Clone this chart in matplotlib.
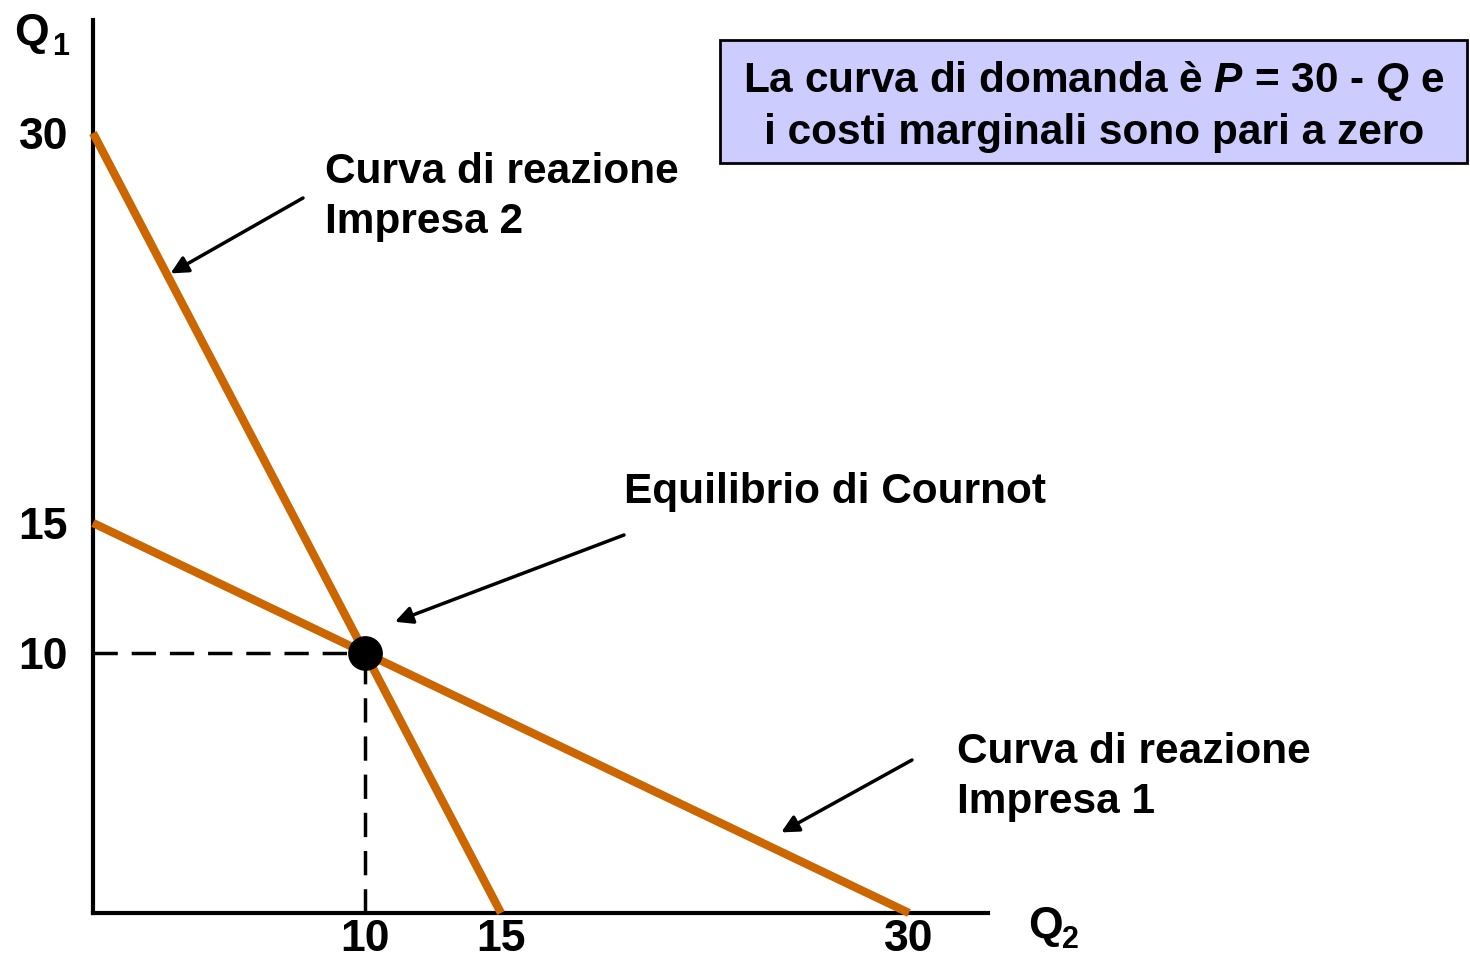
import numpy as np
import matplotlib
matplotlib.use("Agg")
import matplotlib.pyplot as plt
from matplotlib.patches import Rectangle

plt.rcParams["font.family"] = ["Liberation Sans", "DejaVu Sans"]
plt.rcParams["mathtext.fontset"] = "custom"
plt.rcParams["mathtext.it"] = "Liberation Sans:italic:bold"
plt.rcParams["mathtext.bf"] = "Liberation Sans:bold"
plt.rcParams["mathtext.rm"] = "Liberation Sans:bold"

# dati
q2_impresa2 = [0, 15]        # Q1 = 30 - 2*Q2
q1_impresa2 = [30, 0]
q2_impresa1 = [0, 30]        # Q1 = 15 - Q2/2
q1_impresa1 = [15, 0]
eq_q2, eq_q1 = 10, 10
xticks = [10, 15, 30]
yticks = [10, 15, 30]

W, H = 1470, 957
fig = plt.figure(figsize=(W / 100, H / 100), dpi=100)
ax = fig.add_axes([0, 0, 1, 1])

# scala: 1 unita = 27.2 px in x, 26 px in y; origine a (93, 913)
sx, sy, x0, y0 = 27.2, 26.0, 93, 913
ax.set_xlim(-x0 / sx, (W - x0) / sx)
ax.set_ylim(-(H - y0) / sy, y0 / sy)

orange = "#CC6600"
ax.plot(q2_impresa2, q1_impresa2, color=orange, lw=6, solid_capstyle="butt", zorder=3)
ax.plot(q2_impresa1, q1_impresa1, color=orange, lw=6, solid_capstyle="butt", zorder=3)

ax.plot([0, eq_q2], [eq_q1, eq_q1], color="black", lw=2.5, ls=(0, (7, 4)), zorder=2)
ax.plot([eq_q2, eq_q2], [0, eq_q1], color="black", lw=2.5, ls=(0, (7, 4)), zorder=2)
ax.plot([eq_q2], [eq_q1], "o", color="black", ms=24, zorder=4)

# assi
for s in ["top", "right"]:
    ax.spines[s].set_visible(False)
ax.spines["left"].set_position(("data", 0))
ax.spines["bottom"].set_position(("data", 0))
ax.spines["left"].set_bounds(0, (y0 - 20) / sy)
ax.spines["bottom"].set_bounds(0, (988 - x0) / sx)
ax.spines["left"].set_linewidth(3)
ax.spines["bottom"].set_linewidth(3)
ax.set_xticks(xticks)
ax.set_yticks(yticks)
ax.set_xticklabels([str(v) for v in xticks], fontsize=32, fontweight="bold")
ax.set_yticklabels([str(v) for v in yticks], fontsize=32, fontweight="bold")
ax.tick_params(axis="x", length=0, pad=4)
ax.tick_params(axis="y", length=0, pad=18)

def fp(px, py):
    return (px / W, 1 - py / H)

# nomi degli assi
fig.text(*fp(14, 45), "Q", fontsize=32, fontweight="bold", ha="left", va="baseline")
fig.text(*fp(52, 55), "1", fontsize=22, fontweight="bold", ha="left", va="baseline")
fig.text(*fp(1028, 938), "Q", fontsize=32, fontweight="bold", ha="left", va="baseline")
fig.text(*fp(1062, 948), "2", fontsize=22, fontweight="bold", ha="left", va="baseline")

# etichette e frecce
lab = dict(fontsize=30.5, fontweight="bold", ha="left", va="baseline")
fig.text(*fp(325, 183), "Curva di reazione", **lab)
fig.text(*fp(325, 233), "Impresa 2", **lab)
fig.text(*fp(624, 503), "Equilibrio di Cournot", **lab)
fig.text(*fp(957, 763), "Curva di reazione", **lab)
fig.text(*fp(957, 813), "Impresa 1", **lab)

arr = dict(arrowstyle="-|>", color="black", lw=2.5, mutation_scale=26, shrinkA=0, shrinkB=0)
ax.annotate("", xy=(2.85, 24.6), xytext=fp(303, 198), textcoords="figure fraction", arrowprops=arr)
ax.annotate("", xy=(11.1, 11.2), xytext=fp(624, 535), textcoords="figure fraction", arrowprops=arr)
ax.annotate("", xy=(25.3, 3.1), xytext=fp(912, 760), textcoords="figure fraction", arrowprops=arr)

# riquadro
fig.patches.append(Rectangle((720 / W, 1 - 163 / H), (1467 - 720) / W, (163 - 40) / H,
                             transform=fig.transFigure, facecolor="#CCCCFF",
                             edgecolor="black", lw=2, zorder=5))
box = dict(fontsize=30.5, fontweight="bold", ha="center", va="baseline", zorder=6)
fig.text(*fp(1094, 92), r"La curva di domanda è $P$ = 30 - $Q$ e", **box)
fig.text(*fp(1094, 144), "i costi marginali sono pari a zero", **box)

fig.savefig("out.png", dpi=100)
